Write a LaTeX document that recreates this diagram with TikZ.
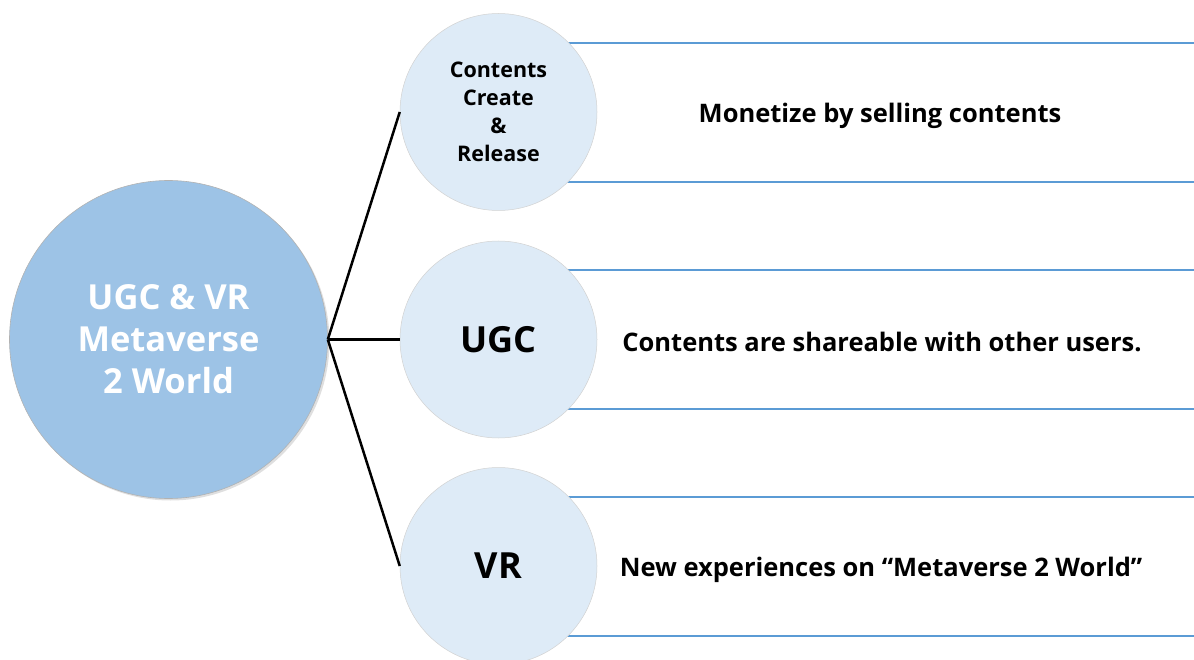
\documentclass[tikz,border=0pt]{standalone}
\usepackage{fontspec}
\setmainfont{Open Sans}
\usetikzlibrary{shadows}
\definecolor{bigblue}{HTML}{9DC3E6}
\definecolor{smallblue}{HTML}{DEEBF7}
\definecolor{lineblue}{HTML}{5B9BD5}
\begin{document}
\begin{tikzpicture}[x=1pt,y=-1pt,
 big/.style={circle, fill=bigblue, draw=gray!60, line width=0.6pt, minimum size=318pt, inner sep=0pt, text=white, font=\fontsize{34.5}{42}\selectfont\bfseries, align=center, drop shadow={shadow xshift=2pt, shadow yshift=-2pt, opacity=0.25}},
 small/.style={circle, fill=smallblue, draw=gray!35, line width=0.5pt, minimum size=197pt, inner sep=0pt, align=center},
 smalltext/.style={font=\fontsize{36}{40}\selectfont\bfseries},
 conn/.style={line width=2.5pt, black},
 rule/.style={lineblue, line width=2pt},
 desc/.style={font=\fontsize{25.5}{30}\selectfont\bfseries}]
\useasboundingbox (0,0) rectangle (1194,660);
% horizontal rules
\coordinate (r1a) at (500,43);  \coordinate (r1b) at (1194,43);
\coordinate (r2a) at (500,182); \coordinate (r2b) at (1194,182);
\coordinate (r3a) at (500,270); \coordinate (r3b) at (1194,270);
\coordinate (r4a) at (500,409); \coordinate (r4b) at (1194,409);
\coordinate (r5a) at (500,497); \coordinate (r5b) at (1194,497);
\coordinate (r6a) at (500,636); \coordinate (r6b) at (1194,636);
\foreach \i in {1,...,6} \draw[rule] (r\i a) -- (r\i b);
% circles
\node[big] (hub) at (168.5,339.5) {UGC \& VR\\Metaverse\\2 World};
\node[small, font=\fontsize{21.5}{28}\selectfont\bfseries] (c1) at (498.5,112) {Contents\\Create\\\&\\Release};
\node[small, smalltext] (c2) at (498.5,339.5) {UGC};
\node[small, smalltext] (c3) at (498.5,566) {VR};
% connectors
\draw[conn] (hub.east) -- (c1.west);
\draw[conn] (hub.east) -- (c2.west);
\draw[conn] (hub.east) -- (c3.west);
% descriptions
\node[desc] (d1) at (880,116) {Monetize by selling contents};
\node[desc] (d2) at (882,342) {Contents are shareable with other users.};
\node[desc] (d3) at (881,570) {New experiences on “Metaverse 2 World”};
\end{tikzpicture}
\end{document}
